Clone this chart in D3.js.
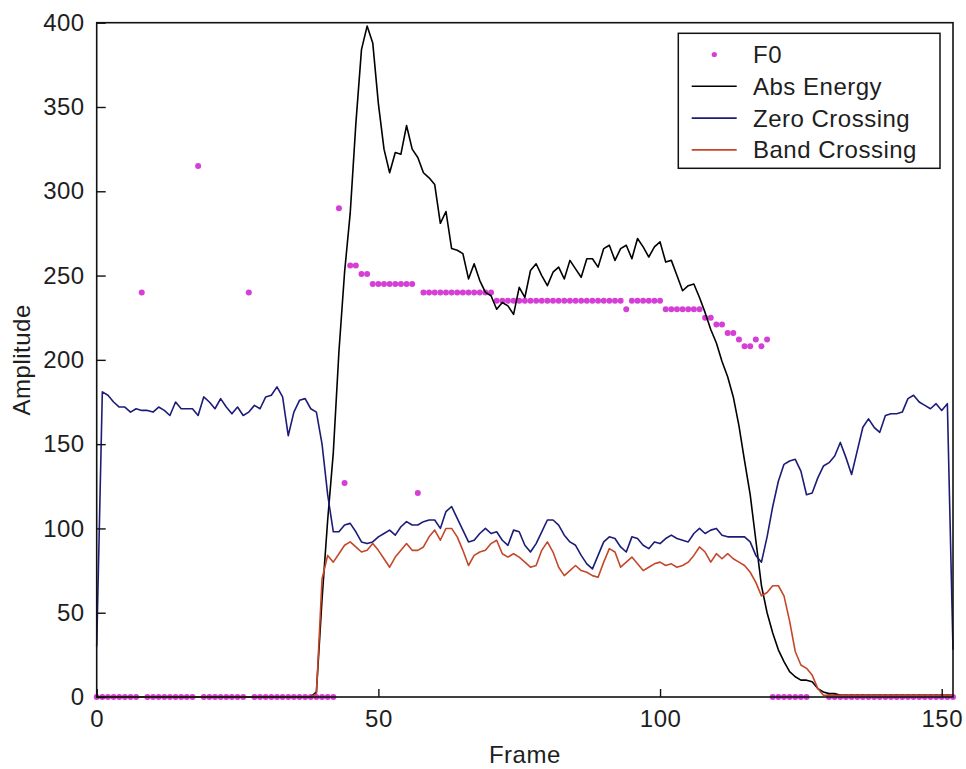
<!DOCTYPE html>
<html><head><meta charset="utf-8">
<script src="https://cdn.jsdelivr.net/npm/d3@7"></script>
<style>
html,body{margin:0;padding:0;background:#fff;}
svg text{font-family:"Liberation Sans",Arial,sans-serif;}
</style></head><body>
<svg id="chart" width="966" height="769"></svg>
<script>
// ---- DATA (one value per frame, frames 0..152) ----
const seriesNames = ["F0", "Abs Energy", "Zero Crossing", "Band Crossing"];
const xTicks = [0, 50, 100, 150];
const yTicks = [0, 50, 100, 150, 200, 250, 300, 350, 400];

const f0 = [
  0,0,0,0,0,0,0,0,240,0,
  0,0,0,0,0,0,0,0,315,0,
  0,0,0,0,0,0,0,240,0,0,
  0,0,0,0,0,0,0,0,0,0,
  0,0,0,290,127,256,256,251,251,245,
  245,245,245,245,245,245,245,121,240,240,
  240,240,240,240,240,240,240,240,240,240,
  240,235,235,235,235,235,235,235,235,235,
  235,235,235,235,235,235,235,235,235,235,
  235,235,235,235,230,235,235,235,235,235,
  235,230,230,230,230,230,230,230,225,225,
  221,221,216,216,212,208,208,212,208,212,
  0,0,0,0,0,0,0,null,null,null,
  0,0,0,0,0,0,0,0,0,0,
  0,0,0,0,0,0,0,0,0,0,
  0,0,0
];

const absEnergy = [
  0,0,0,0,0,0,0,0,0,0,
  0,0,0,0,0,0,0,0,0,0,
  0,0,0,0,0,0,0,0,0,0,
  0,0,0,0,0,0,0,0,0,3,
  58,105,145,205,252,287,340,384,398,388,
  352,325,311,323,322,339,325,320,311,308,
  304,281,288,266,265,263,248,257,247,240,
  238,230,234,232,227,243,237,253,257,250,
  244,252,255,248,259,254,249,260,260,255,
  266,268,259,266,268,260,272,267,261,267,
  270,258,259,250,241,244,245,237,228,218,
  210,199,190,178,161,140,120,93,66,50,
  38,28,21,15,12,10,10,9,5,3,
  2,2,1,1,1,1,1,1,1,1,
  1,1,1,1,1,1,1,1,1,1,
  1,1,1
];

const zeroCrossing = [
  30,181,179,175,172,172,169,171,170,170,
  169,172,170,167,175,171,171,171,167,178,
  175,171,177,172,168,172,167,169,173,171,
  178,179,184,178,155,169,176,177,171,169,
  150,120,98,98,102,103,98,92,91,92,
  95,97,99,96,101,104,102,102,104,105,
  105,100,110,113,106,99,92,93,97,100,
  97,98,93,90,99,98,90,86,91,98,
  105,105,102,96,92,90,84,79,76,84,
  92,95,94,89,86,95,94,90,88,92,
  91,94,96,94,93,92,97,100,97,99,
  100,96,95,95,95,95,92,84,80,95,
  113,128,138,140,141,134,120,121,130,137,
  139,143,151,142,132,146,160,165,160,157,
  167,168,168,169,177,179,175,173,171,174,
  170,174,28
];

const bandCrossing = [
  0,0,0,0,0,0,0,0,0,0,
  0,0,0,0,0,0,0,0,0,0,
  0,0,0,0,0,0,0,0,0,0,
  0,0,0,0,0,0,0,0,0,2,
  70,84,80,85,90,92,89,86,87,91,
  87,82,77,83,87,91,87,87,89,95,
  99,93,100,100,95,87,78,84,86,87,
  91,93,85,83,85,83,80,77,78,87,
  92,86,77,72,75,78,75,74,72,71,
  80,88,86,77,80,83,79,75,77,79,
  80,78,79,77,78,80,84,89,86,80,
  85,82,85,82,80,78,74,68,60,62,
  66,66,60,45,27,19,17,13,5,1,
  1,1,1,1,1,1,1,1,1,1,
  1,1,1,1,1,1,1,1,1,1,
  1,1,1
];

// ---- STYLE ----
const colors = {F0:"#d63fd6", abs:"#000000", zero:"#1c1c78", band:"#c4472a"};
const svg = d3.select("#chart");
const L = 96.7, R = 953, T = 22.7, B = 697;
const x = d3.scaleLinear().domain([0, 152]).range([L, R]);
const y = d3.scaleLinear().domain([0, 400]).range([B, T]);
const textColor = "#1e1e1e";
const fontSize = "24px";

// F0 dots
const f0pts = f0.map((v,i)=>({i, v})).filter(d=>d.v!==null);
svg.append("g").selectAll("circle").data(f0pts).enter().append("circle")
  .attr("cx", d=>x(d.i)).attr("cy", d=>y(d.v)).attr("r", 3)
  .attr("fill", colors.F0);

const line = d3.line().x((d,i)=>x(i)).y(d=>y(d));
function drawLine(data, c){
  svg.append("path").datum(data).attr("d", line)
    .attr("fill","none").attr("stroke", c).attr("stroke-width",1.6)
    .attr("stroke-linejoin","round");
}
drawLine(absEnergy, colors.abs);
drawLine(zeroCrossing, colors.zero);
drawLine(bandCrossing, colors.band);

// box
svg.append("rect").attr("x",L).attr("y",T).attr("width",R-L).attr("height",B-T)
  .attr("fill","none").attr("stroke","#111").attr("stroke-width",1.6);

// axes
const xAxis = d3.axisBottom(x).tickValues(xTicks).tickSizeInner(-8).tickSizeOuter(0).tickPadding(13);
const gx = svg.append("g").attr("transform",`translate(0,${B})`).call(xAxis);
const yAxis = d3.axisLeft(y).tickValues(yTicks).tickSizeInner(-9).tickSizeOuter(0).tickPadding(12);
const gy = svg.append("g").attr("transform",`translate(${L},0)`).call(yAxis);
[gx,gy].forEach(g=>{
  g.select(".domain").remove();
  g.selectAll(".tick line").attr("stroke","#111").attr("stroke-width",1.4);
  g.selectAll(".tick text").attr("fill",textColor).style("font-size",fontSize)
    .style("letter-spacing","0.5px").style("font-family",'"Liberation Sans",Arial,sans-serif');
});

// axis titles
svg.append("text").attr("x",(L+R)/2).attr("y",763).attr("text-anchor","middle")
  .attr("fill",textColor).style("font-size",fontSize).style("letter-spacing","0.5px").text("Frame");
svg.append("text").attr("transform",`translate(30,${(T+B)/2}) rotate(-90)`).attr("text-anchor","middle")
  .attr("fill",textColor).style("font-size",fontSize).style("letter-spacing","0.5px").text("Amplitude");

// legend
const lg = svg.append("g");
lg.append("rect").attr("x",678.3).attr("y",33.3).attr("width",261.7).attr("height",135)
  .attr("fill","#fff").attr("stroke","#111").attr("stroke-width",1.5);
const legendItems = [
  {name:seriesNames[0], type:"dot", c:colors.F0},
  {name:seriesNames[1], type:"line", c:colors.abs},
  {name:seriesNames[2], type:"line", c:colors.zero},
  {name:seriesNames[3], type:"line", c:colors.band}
];
legendItems.forEach((d,k)=>{
  const cy = 54.5 + k*31.8;
  if(d.type==="dot"){
    lg.append("circle").attr("cx",714.3).attr("cy",cy).attr("r",2.6).attr("fill",d.c);
  } else {
    lg.append("line").attr("x1",691.7).attr("x2",736.7).attr("y1",cy).attr("y2",cy)
      .attr("stroke",d.c).attr("stroke-width",1.6);
  }
  lg.append("text").attr("x",753).attr("y",cy+8.5).attr("fill",textColor)
    .style("font-size",fontSize).style("letter-spacing","0.5px").text(d.name);
});
</script>
</body></html>
